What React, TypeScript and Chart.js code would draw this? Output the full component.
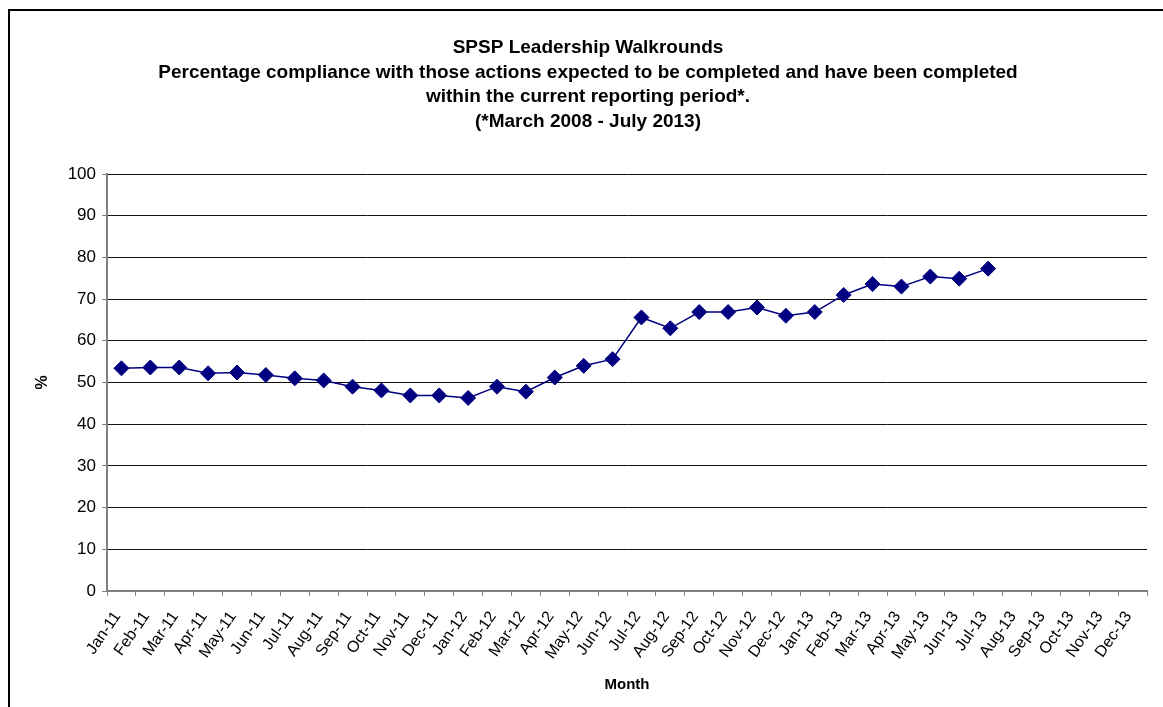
import React, { useEffect, useRef } from 'react';
import { Chart, registerables } from 'chart.js';

Chart.register(...registerables);

const FONT = "'Liberation Sans', Arial, Helvetica, sans-serif";

const titleLines = [
  'SPSP Leadership Walkrounds',
  'Percentage compliance with those actions expected to be completed and have been completed',
  'within the current reporting period*.',
  '(*March 2008 - July 2013)',
];

const months = [
  'Jan-11', 'Feb-11', 'Mar-11', 'Apr-11', 'May-11', 'Jun-11', 'Jul-11', 'Aug-11', 'Sep-11', 'Oct-11', 'Nov-11', 'Dec-11',
  'Jan-12', 'Feb-12', 'Mar-12', 'Apr-12', 'May-12', 'Jun-12', 'Jul-12', 'Aug-12', 'Sep-12', 'Oct-12', 'Nov-12', 'Dec-12',
  'Jan-13', 'Feb-13', 'Mar-13', 'Apr-13', 'May-13', 'Jun-13', 'Jul-13', 'Aug-13', 'Sep-13', 'Oct-13', 'Nov-13', 'Dec-13',
];

const compliance = [
  53.4, 53.6, 53.6, 52.2, 52.4, 51.8, 51.0, 50.5, 49.0, 48.1, 46.9, 46.9,
  46.3, 49.0, 47.8, 51.2, 54.0, 55.6, 65.6, 63.0, 66.9, 66.9, 68.0, 66.0,
  66.9, 71.0, 73.6, 73.0, 75.4, 74.9, 77.3,
];

const yAxisTitle = '%';
const xAxisTitle = 'Month';
const yMin = 0;
const yMax = 100;
const yStep = 10;

export default function App() {
  const ref = useRef<HTMLCanvasElement>(null);

  useEffect(() => {
    if (!ref.current) return;
    const chart = new Chart(ref.current, {
      type: 'line',
      data: {
        labels: months,
        datasets: [
          {
            data: compliance,
            borderColor: '#000080',
            backgroundColor: '#000080',
            borderWidth: 1.5,
            pointStyle: 'rectRot',
            pointRadius: 7.5,
            pointBorderWidth: 1,
            pointBackgroundColor: '#000080',
            pointBorderColor: '#000080',
            tension: 0,
            fill: false,
          },
        ],
      },
      options: {
        responsive: false,
        animation: false,
        devicePixelRatio: 1,
        layout: { padding: 0 },
        plugins: {
          legend: { display: false },
          tooltip: { enabled: false },
          title: {
            display: true,
            text: titleLines,
            color: '#000',
            font: { family: FONT, size: 19, weight: 'bold', lineHeight: 24.5 / 19 },
            padding: { top: 25, bottom: 40 },
          },
        },
        scales: {
          x: {
            offset: true,
            grid: {
              offset: true,
              drawOnChartArea: false,
              drawTicks: true,
              tickLength: 5,
              tickColor: '#808080',
              color: '#808080',
              lineWidth: 1,
            },
            border: { color: '#808080', width: 2 },
            ticks: {
              autoSkip: false,
              minRotation: 55,
              maxRotation: 55,
              color: '#000',
              font: { family: FONT, size: 16 },
              padding: 12,
              labelOffset: -4,
            },
            title: {
              display: true,
              text: xAxisTitle,
              color: '#000',
              font: { family: FONT, size: 15, weight: 'bold', lineHeight: 1.2 },
              padding: { top: 0, bottom: 13 },
            },
            afterFit: (s: any) => {
              s.height = 116;
              s.paddingRight = 19;
            },
          },
          y: {
            min: yMin,
            max: yMax,
            ticks: {
              stepSize: yStep,
              color: '#000',
              font: { family: FONT, size: 17 },
              padding: 6,
            },
            grid: {
              color: (c: any) => (c.tick && c.tick.value === 0 ? 'rgba(0,0,0,0)' : '#111'),
              tickColor: '#808080',
              tickLength: 5,
              lineWidth: 1,
            },
            border: { color: '#808080', width: 2 },
            title: {
              display: true,
              text: yAxisTitle,
              color: '#000',
              font: { family: FONT, size: 16, weight: 'bold', lineHeight: 1.2 },
              padding: { top: 23, bottom: 0 },
            },
            afterFit: (s: any) => {
              s.width = 97;
            },
          },
        },
      },
    } as any);
    return () => chart.destroy();
  }, []);

  return (
    <div
      style={{
        position: 'fixed',
        left: 0,
        top: 0,
        width: 1163,
        height: 707,
        overflow: 'hidden',
        background: '#fff',
      }}
    >
      <div
        style={{
          position: 'absolute',
          left: 8,
          top: 9,
          borderTop: '2px solid #000',
          borderLeft: '2px solid #000',
          width: 1158,
          height: 720,
          boxSizing: 'border-box',
          background: '#fff',
        }}
      >
        <canvas ref={ref} width={1156} height={696} style={{ display: 'block' }} />
      </div>
    </div>
  );
}
